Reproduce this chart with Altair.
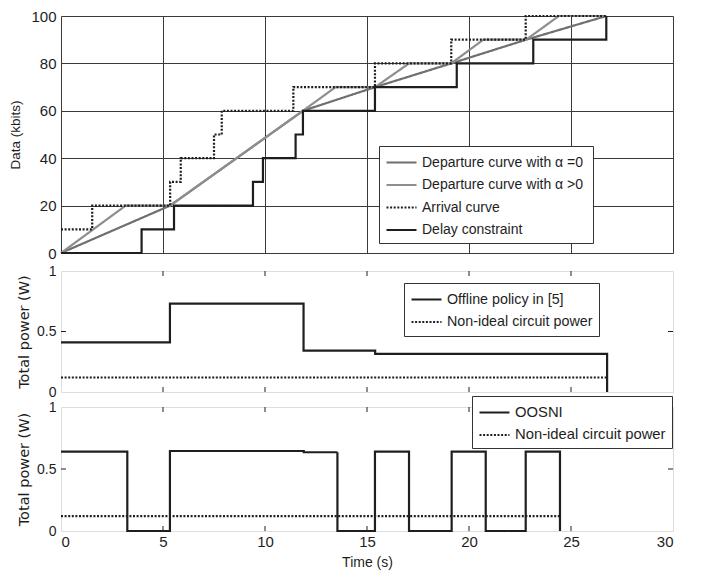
import altair as alt
import pandas as pd

FONT = "Liberation Sans"
INK = "#1e1e1e"

# ---------------- top panel data ----------------
top_labels = ["Departure curve with  \u03b1 =0", "Departure curve with  \u03b1 >0", "Arrival curve", "Delay constraint"]
top_colors = ["#6f6f6f", "#8e8e8e", INK, INK]
top_dashes = [[1, 0], [1, 0], [2, 1.6], [1, 0]]

dep0_t = [0, 5.35, 11.86, 15.4, 19.13, 22.8, 26.73]
dep0_v = [0, 20, 60, 70, 80, 90, 100]
dep1_t = [0, 3.17, 5.35, 11.86, 13.46, 15.4, 17.06, 19.13, 20.7, 22.8, 24.4, 26.73]
dep1_v = [0, 20, 20, 60, 70, 70, 80, 80, 90, 90, 100, 100]
arr_t = [0, 1.53, 5.35, 5.87, 7.5, 7.88, 11.39, 15.39, 19.13, 22.78, 26.73]
arr_v = [10, 20, 30, 40, 50, 60, 70, 80, 90, 100, 100]
del_t = [0, 3.95, 5.54, 9.41, 9.9, 11.5, 11.86, 15.39, 19.4, 23.15, 26.73]
del_v = [0, 10, 20, 30, 40, 50, 60, 70, 80, 90, 100]

# ---------------- middle panel data ----------------
mid_labels = ["Offline policy in [5]", "Non-ideal circuit power"]
off_t = [0, 5.34, 11.89, 15.4, 26.77]
off_v = [0.41, 0.73, 0.342, 0.315, 0]
circ_mid_t = [0, 26.77]
circ_mid_v = [0.12, 0.12]

# ---------------- bottom panel data ----------------
bot_labels = ["OOSNI", "Non-ideal circuit power"]
oos_t = [0, 3.25, 5.34, 11.9, 13.55, 15.39, 17.06, 19.15, 20.82, 22.78, 24.46]
oos_v = [0.64, 0, 0.645, 0.635, 0, 0.64, 0, 0.64, 0, 0.64, 0]
circ_bot_t = [0, 24.46]
circ_bot_v = [0.12, 0.12]

x_ticks = [5, 10, 15, 20, 25]
x_values = [0, 5, 10, 15, 20, 25, 30]
top_y_values = [0, 20, 40, 60, 80, 100]
pow_y_values = [0, 0.5, 1]
pow_inner_ticks = [0.5]

W = 612
H_TOP, H_MID, H_BOT = 237, 121, 124
LABEL_FS = 15


def frame(ts, vs, name):
    return pd.DataFrame({"t": ts, "v": vs, "s": name})


def legend(x, y, fs=14):
    return alt.Legend(
        orient="none", legendX=x, legendY=y, title=None,
        symbolType="M-1,0H2.333", symbolSize=324, symbolStrokeWidth=2.2,
        labelOffset=16, padding=6, rowPadding=4.5,
        strokeColor="#333", fillColor="white",
        labelFont=FONT, labelFontSize=fs, labelColor=INK, labelLimit=0,
    )


def enc_series(labels, colors, dashes, leg):
    return dict(
        color=alt.Color("s:N", scale=alt.Scale(domain=labels, range=colors), legend=leg),
        strokeDash=alt.StrokeDash("s:N", scale=alt.Scale(domain=labels, range=dashes), legend=leg),
    )


GRID = "#3a3a3a"

# ---------------- top panel ----------------
xt = alt.X("t:Q", scale=alt.Scale(domain=[0, 30], nice=False),
           axis=alt.Axis(values=x_values, grid=True, labels=False, ticks=False, domain=False, title=None,
                         gridColor=GRID, gridWidth=1, gridOpacity=1))
yt = alt.Y("v:Q", scale=alt.Scale(domain=[0, 100], nice=False),
           axis=alt.Axis(values=top_y_values, grid=True, ticks=False, domain=False, title="Data (kbits)",
                         gridColor=GRID, gridWidth=1, gridOpacity=1,
                         labelFont=FONT, labelFontSize=LABEL_FS, labelColor=INK,
                         labelPadding=5, titlePadding=8, titleFont=FONT, titleFontSize=13.5,
                         titleFontWeight="normal", titleColor=INK))

top_leg = legend(318, 130)
lin_df = pd.concat([frame(dep0_t, dep0_v, top_labels[0]), frame(dep1_t, dep1_v, top_labels[1])])
step_df = pd.concat([frame(arr_t, arr_v, top_labels[2]), frame(del_t, del_v, top_labels[3])])

top_lin = alt.Chart(lin_df).mark_line(strokeWidth=2.2).encode(
    x=xt, y=yt, detail="s:N", **enc_series(top_labels, top_colors, top_dashes, top_leg))
top_step = alt.Chart(step_df).mark_line(strokeWidth=2.2, interpolate="step-after").encode(
    x=xt, y=yt, detail="s:N", **enc_series(top_labels, top_colors, top_dashes, top_leg))
top = alt.layer(top_lin, top_step).properties(width=W, height=H_TOP)


# ---------------- power panels ----------------
def power_panel(main_df, labels, leg, height, show_x, title, title_font):
    xa = alt.Axis(values=x_values, grid=False, ticks=False, domain=False, labels=show_x,
                  title="Time (s)" if show_x else None, format="d",
                  labelFont=FONT, labelFontSize=LABEL_FS, labelColor=INK,
                  labelPadding=3, titlePadding=6, titleFontSize=14, titleFont=FONT,
                  titleFontWeight="normal", titleColor=INK)
    ya = alt.Axis(values=pow_y_values, grid=False, ticks=False, domain=False, format="~g",
                  labelFont=FONT, labelFontSize=14, labelColor=INK,
                  title=title, labelPadding=5, titlePadding=5, titleFont=title_font, titleFontSize=14.5,
                  titleFontWeight="normal", titleColor=INK)
    x = alt.X("t:Q", scale=alt.Scale(domain=[0, 30], nice=False), axis=xa)
    y = alt.Y("v:Q", scale=alt.Scale(domain=[0, 1], nice=False), axis=ya)
    lines = alt.Chart(main_df).mark_line(strokeWidth=2.2, interpolate="step-after").encode(
        x=x, y=y, detail="s:N", **enc_series(labels, [INK, INK], [[1, 0], [2, 1.6]], leg))
    xt_df = pd.DataFrame({"t": x_ticks})
    yt_df = pd.DataFrame({"v": pow_inner_ticks})
    tk = dict(color=INK, strokeWidth=1)
    t_top = alt.Chart(xt_df).mark_rule(**tk).encode(x=x, y=alt.value(0), y2=alt.value(5))
    t_bot = alt.Chart(xt_df).mark_rule(**tk).encode(x=x, y=alt.value(height), y2=alt.value(height - 5))
    t_left = alt.Chart(yt_df).mark_rule(**tk).encode(y=y, x=alt.value(0), x2=alt.value(5))
    t_right = alt.Chart(yt_df).mark_rule(**tk).encode(y=y, x=alt.value(W), x2=alt.value(W - 5))
    return alt.layer(lines, t_top, t_bot, t_left, t_right).properties(width=W, height=height)


mid_df = pd.concat([frame(off_t, off_v, mid_labels[0]), frame(circ_mid_t, circ_mid_v, mid_labels[1])])
bot_df = pd.concat([frame(oos_t, oos_v, bot_labels[0]), frame(circ_bot_t, circ_bot_v, bot_labels[1])])

mid = power_panel(mid_df, mid_labels, legend(343, 12, 14.3), H_MID, False, "Total power (W)", "DejaVu Sans")
bot = power_panel(bot_df, bot_labels, legend(411, -11, 14.8), H_BOT, True, "Total  power (W)", "DejaVu Sans")

lower = alt.vconcat(mid, bot, spacing=15, bounds="flush").resolve_scale(
    color="independent", strokeDash="independent").resolve_legend(color="independent", strokeDash="independent")

chart = alt.vconcat(top, lower, spacing=18, bounds="flush").resolve_scale(
    color="independent", strokeDash="independent").resolve_legend(
    color="independent", strokeDash="independent").properties(
    padding={"left": 0, "top": 0, "right": 5, "bottom": 0}
).configure_view(stroke="#222", strokeWidth=1.4).configure(background="white")

chart.save("out.html", embed_options={"renderer": "svg", "actions": False})
